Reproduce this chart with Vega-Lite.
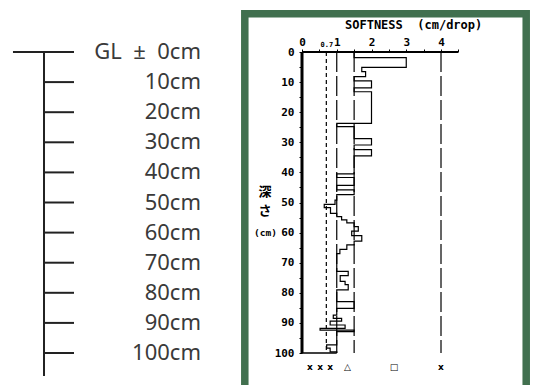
{
  "$schema": "https://vega.github.io/schema/vega-lite/v6.json",
  "width": 232,
  "height": 333,
  "padding": {"left": 302, "top": 52, "right": 0, "bottom": 0},
  "autosize": {"type": "none"},
  "background": "white",
  "config": {"view": {"stroke": null}},
  "resolve": {"axis": {"x": "independent", "y": "independent"}},
  "datasets": {
    "profile": [
      {"i": 1, "d": 0, "v": 1.5}, {"i": 2, "d": 1.9, "v": 3.0}, {"i": 3, "d": 5.1, "v": 1.72}, {"i": 4, "d": 6.5, "v": 1.83},
      {"i": 5, "d": 8.2, "v": 1.5}, {"i": 6, "d": 9.6, "v": 2.0}, {"i": 7, "d": 11.9, "v": 1.5}, {"i": 8, "d": 13.2, "v": 2.0},
      {"i": 9, "d": 23.7, "v": 1.0}, {"i": 10, "d": 24.8, "v": 1.5}, {"i": 11, "d": 28.8, "v": 2.0}, {"i": 12, "d": 30.9, "v": 1.5},
      {"i": 13, "d": 32.4, "v": 2.0}, {"i": 14, "d": 34.5, "v": 1.5}, {"i": 15, "d": 40.5, "v": 1.0}, {"i": 16, "d": 41.7, "v": 1.5},
      {"i": 17, "d": 44.3, "v": 1.0}, {"i": 18, "d": 45.8, "v": 1.5}, {"i": 19, "d": 47.4, "v": 1.0}, {"i": 20, "d": 49.2, "v": 0.95},
      {"i": 21, "d": 50.6, "v": 0.64}, {"i": 22, "d": 51.7, "v": 0.82}, {"i": 23, "d": 53.6, "v": 1.0}, {"i": 24, "d": 54.7, "v": 1.14},
      {"i": 25, "d": 55.8, "v": 1.29}, {"i": 26, "d": 56.8, "v": 1.5}, {"i": 27, "d": 58.0, "v": 1.62}, {"i": 28, "d": 59.5, "v": 1.43},
      {"i": 29, "d": 61.0, "v": 1.72}, {"i": 30, "d": 62.8, "v": 1.5}, {"i": 31, "d": 64.1, "v": 1.29}, {"i": 32, "d": 65.6, "v": 1.09},
      {"i": 33, "d": 67.0, "v": 1.0}, {"i": 34, "d": 72.9, "v": 1.33}, {"i": 35, "d": 74.3, "v": 1.1}, {"i": 36, "d": 76.2, "v": 1.24},
      {"i": 37, "d": 77.3, "v": 1.33}, {"i": 38, "d": 79.0, "v": 1.0}, {"i": 39, "d": 82.9, "v": 1.5}, {"i": 40, "d": 85.2, "v": 1.0},
      {"i": 41, "d": 87.4, "v": 0.9}, {"i": 42, "d": 88.5, "v": 1.14}, {"i": 43, "d": 89.4, "v": 0.81}, {"i": 44, "d": 90.7, "v": 1.24},
      {"i": 45, "d": 91.8, "v": 0.52}, {"i": 46, "d": 92.4, "v": 1.5}, {"i": 47, "d": 92.9, "v": 1.0}, {"i": 48, "d": 97.3, "v": 0.71},
      {"i": 49, "d": 98.4, "v": 0.81}, {"i": 50, "d": 99.6, "v": 1.0}, {"i": 51, "d": 100, "v": 1.0}
    ],
    "ruler": [
      {"d": 0, "label": "GL\u00a0\u00a0±\u00a0\u00a00cm"}, {"d": 10, "label": "10cm"}, {"d": 20, "label": "20cm"}, {"d": 30, "label": "30cm"},
      {"d": 40, "label": "40cm"}, {"d": 50, "label": "50cm"}, {"d": 60, "label": "60cm"}, {"d": 70, "label": "70cm"},
      {"d": 80, "label": "80cm"}, {"d": 90, "label": "90cm"}, {"d": 100, "label": "100cm"}
    ],
    "symbols": [
      {"v": 0.23, "s": "x"}, {"v": 0.52, "s": "x"}, {"v": 0.81, "s": "x"},
      {"v": 1.31, "s": "△"}, {"v": 2.65, "s": "□"}, {"v": 4.0, "s": "x"}
    ],
    "refs": [{"v": 1.0}, {"v": 1.5}, {"v": 4.0}],
    "one": [{}]
  },
  "layer": [
    {
      "data": {"name": "one"},
      "mark": {"type": "rect", "fill": "transparent", "stroke": "#41704f", "strokeWidth": 7.5, "clip": false},
      "encoding": {
        "x": {"datum": -1.646, "type": "quantitative", "scale": {"domain": [0, 6.676], "nice": false, "zero": false}, "axis": null},
        "x2": {"datum": 6.452},
        "y": {"datum": -12.72, "type": "quantitative", "scale": {"domain": [0, 110.63], "reverse": true, "nice": false, "zero": false}, "axis": null},
        "y2": {"datum": 112.96}
      }
    },
    {
      "data": {"name": "one"},
      "mark": {"type": "rule", "stroke": "#222222", "strokeWidth": 2},
      "encoding": {
        "x": {"datum": -7.424, "type": "quantitative", "scale": {"domain": [0, 6.676], "nice": false, "zero": false}, "axis": null},
        "y": {"datum": 0, "type": "quantitative", "scale": {"domain": [0, 110.63], "reverse": true, "nice": false, "zero": false}, "axis": null},
        "y2": {"datum": 107.6}
      }
    },
    {
      "data": {"name": "one"},
      "mark": {"type": "rule", "stroke": "#222222", "strokeWidth": 2},
      "encoding": {
        "x": {"datum": -8.317, "type": "quantitative", "scale": {"domain": [0, 6.676], "nice": false, "zero": false}, "axis": null},
        "x2": {"datum": -6.561},
        "y": {"datum": 0, "type": "quantitative", "scale": {"domain": [0, 110.63], "reverse": true, "nice": false, "zero": false}, "axis": null}
      }
    },
    {
      "data": {"name": "ruler"},
      "mark": {"type": "rule", "stroke": "#222222", "strokeWidth": 2},
      "encoding": {
        "x": {"datum": -7.424, "type": "quantitative", "scale": {"domain": [0, 6.676], "nice": false, "zero": false}, "axis": null},
        "x2": {"datum": -6.561},
        "y": {"field": "d", "type": "quantitative", "scale": {"domain": [0, 110.63], "reverse": true, "nice": false, "zero": false}, "axis": null}
      }
    },
    {
      "data": {"name": "ruler"},
      "mark": {"type": "text", "align": "right", "baseline": "middle", "font": "Noto Sans", "fontSize": 22, "color": "#3a3a3a"},
      "encoding": {
        "x": {"datum": -2.906, "type": "quantitative", "scale": {"domain": [0, 6.676], "nice": false, "zero": false}, "axis": null},
        "y": {"field": "d", "type": "quantitative", "scale": {"domain": [0, 110.63], "reverse": true, "nice": false, "zero": false}, "axis": null},
        "text": {"field": "label"}
      }
    },
    {
      "data": {"name": "one"},
      "mark": {"type": "rule", "stroke": "black", "strokeWidth": 1.2, "strokeDash": [4, 3]},
      "encoding": {
        "x": {"datum": 0.7, "type": "quantitative", "scale": {"domain": [0, 6.676], "nice": false, "zero": false}, "axis": null},
        "y": {"datum": 0, "type": "quantitative", "scale": {"domain": [0, 110.63], "reverse": true, "nice": false, "zero": false}, "axis": null},
        "y2": {"datum": 100}
      }
    },
    {
      "data": {"name": "refs"},
      "mark": {"type": "rule", "stroke": "black", "strokeWidth": 1.2, "strokeDash": [20, 4]},
      "encoding": {
        "x": {"field": "v", "type": "quantitative", "scale": {"domain": [0, 6.676], "nice": false, "zero": false}, "axis": null},
        "y": {"datum": 0, "type": "quantitative", "scale": {"domain": [0, 110.63], "reverse": true, "nice": false, "zero": false}, "axis": null},
        "y2": {"datum": 100}
      }
    },
    {
      "data": {"name": "profile"},
      "mark": {"type": "line", "interpolate": "step-before", "stroke": "black", "strokeWidth": 1.2},
      "encoding": {
        "x": {
          "field": "v", "type": "quantitative",
          "scale": {"domain": [0, 6.676], "nice": false, "zero": false},
          "axis": {
            "orient": "top", "title": null, "domain": false, "grid": false,
            "values": [0, 0.5, 0.7, 1, 1.5, 2, 2.5, 3, 3.5, 4, 4.5],
            "tickSize": 3, "tickColor": "black", "tickWidth": 1,
            "tickOpacity": {"condition": {"test": "datum.value == 0.7", "value": 0}, "value": 1},
            "labelExpr": "datum.value == 0.7 ? '0.7' : (datum.value % 1 == 0 ? format(datum.value, 'd') : '')",
            "labelFont": "DejaVu Sans Mono", "labelFontWeight": "bold",
            "labelFontSize": {"condition": {"test": "datum.value == 0.7", "value": 7}, "value": 11},
            "labelColor": "black", "labelPadding": 2, "labelOverlap": false, "labelFlush": false, "labelBound": false
          }
        },
        "y": {
          "field": "d", "type": "quantitative",
          "scale": {"domain": [0, 110.63], "reverse": true, "nice": false, "zero": false},
          "axis": {
            "orient": "left", "title": null, "domain": false, "grid": false,
            "values": [0, 5, 10, 15, 20, 25, 30, 35, 40, 45, 50, 55, 60, 65, 70, 75, 80, 85, 90, 95, 100],
            "tickSize": 3, "tickColor": "black", "tickWidth": 1,
            "labelExpr": "datum.value % 10 == 0 ? format(datum.value, 'd') : ''",
            "labelFont": "DejaVu Sans Mono", "labelFontWeight": "bold", "labelFontSize": 11,
            "labelColor": "black", "labelPadding": 5, "labelOverlap": false, "labelFlush": false, "labelBound": false
          }
        },
        "order": {"field": "i", "type": "quantitative"}
      }
    },
    {
      "data": {"name": "one"},
      "mark": {"type": "rule", "stroke": "black", "strokeWidth": 3},
      "encoding": {
        "x": {"datum": 0, "type": "quantitative", "scale": {"domain": [0, 6.676], "nice": false, "zero": false}, "axis": null},
        "y": {"datum": 0, "type": "quantitative", "scale": {"domain": [0, 110.63], "reverse": true, "nice": false, "zero": false}, "axis": null},
        "y2": {"datum": 100}
      }
    },
    {
      "data": {"name": "one"},
      "mark": {"type": "rule", "stroke": "black", "strokeWidth": 2},
      "encoding": {
        "x": {"datum": 0, "type": "quantitative", "scale": {"domain": [0, 6.676], "nice": false, "zero": false}, "axis": null},
        "x2": {"datum": 4.49},
        "y": {"datum": 0, "type": "quantitative", "scale": {"domain": [0, 110.63], "reverse": true, "nice": false, "zero": false}, "axis": null}
      }
    },
    {
      "data": {"name": "one"},
      "mark": {"type": "rule", "stroke": "black", "strokeWidth": 1.3},
      "encoding": {
        "x": {"datum": 0, "type": "quantitative", "scale": {"domain": [0, 6.676], "nice": false, "zero": false}, "axis": null},
        "x2": {"datum": 1.0},
        "y": {"datum": 100, "type": "quantitative", "scale": {"domain": [0, 110.63], "reverse": true, "nice": false, "zero": false}, "axis": null}
      }
    },
    {
      "data": {"name": "one"},
      "mark": {"type": "text", "align": "left", "baseline": "middle", "font": "DejaVu Sans Mono", "fontWeight": "bold", "fontSize": 12, "color": "black", "text": "SOFTNESS\u00a0\u00a0(cm/drop)"},
      "encoding": {
        "x": {"datum": 1.237, "type": "quantitative", "scale": {"domain": [0, 6.676], "nice": false, "zero": false}, "axis": null},
        "y": {"datum": -8.97, "type": "quantitative", "scale": {"domain": [0, 110.63], "reverse": true, "nice": false, "zero": false}, "axis": null}
      }
    },
    {
      "data": {"name": "one"},
      "mark": {"type": "text", "align": "center", "baseline": "middle", "font": "Noto Sans CJK JP", "fontWeight": "bold", "fontSize": 13, "color": "black", "text": "深"},
      "encoding": {
        "x": {"datum": -1.065, "type": "quantitative", "scale": {"domain": [0, 6.676], "nice": false, "zero": false}, "axis": null},
        "y": {"datum": 46.4, "type": "quantitative", "scale": {"domain": [0, 110.63], "reverse": true, "nice": false, "zero": false}, "axis": null}
      }
    },
    {
      "data": {"name": "one"},
      "mark": {"type": "text", "align": "center", "baseline": "middle", "font": "Noto Sans CJK JP", "fontWeight": "bold", "fontSize": 13, "color": "black", "text": "さ"},
      "encoding": {
        "x": {"datum": -1.065, "type": "quantitative", "scale": {"domain": [0, 6.676], "nice": false, "zero": false}, "axis": null},
        "y": {"datum": 52.7, "type": "quantitative", "scale": {"domain": [0, 110.63], "reverse": true, "nice": false, "zero": false}, "axis": null}
      }
    },
    {
      "data": {"name": "one"},
      "mark": {"type": "text", "align": "right", "baseline": "middle", "font": "DejaVu Sans Mono", "fontWeight": "bold", "fontSize": 9.5, "color": "black", "text": "(cm)"},
      "encoding": {
        "x": {"datum": -0.72, "type": "quantitative", "scale": {"domain": [0, 6.676], "nice": false, "zero": false}, "axis": null},
        "y": {"datum": 60, "type": "quantitative", "scale": {"domain": [0, 110.63], "reverse": true, "nice": false, "zero": false}, "axis": null}
      }
    },
    {
      "data": {"name": "symbols"},
      "mark": {"type": "text", "align": "center", "baseline": "middle", "font": "DejaVu Sans", "fontWeight": "bold", "fontSize": 9, "color": "black"},
      "encoding": {
        "x": {"field": "v", "type": "quantitative", "scale": {"domain": [0, 6.676], "nice": false, "zero": false}, "axis": null},
        "y": {"datum": 104.5, "type": "quantitative", "scale": {"domain": [0, 110.63], "reverse": true, "nice": false, "zero": false}, "axis": null},
        "text": {"field": "s"}
      }
    }
  ]
}
